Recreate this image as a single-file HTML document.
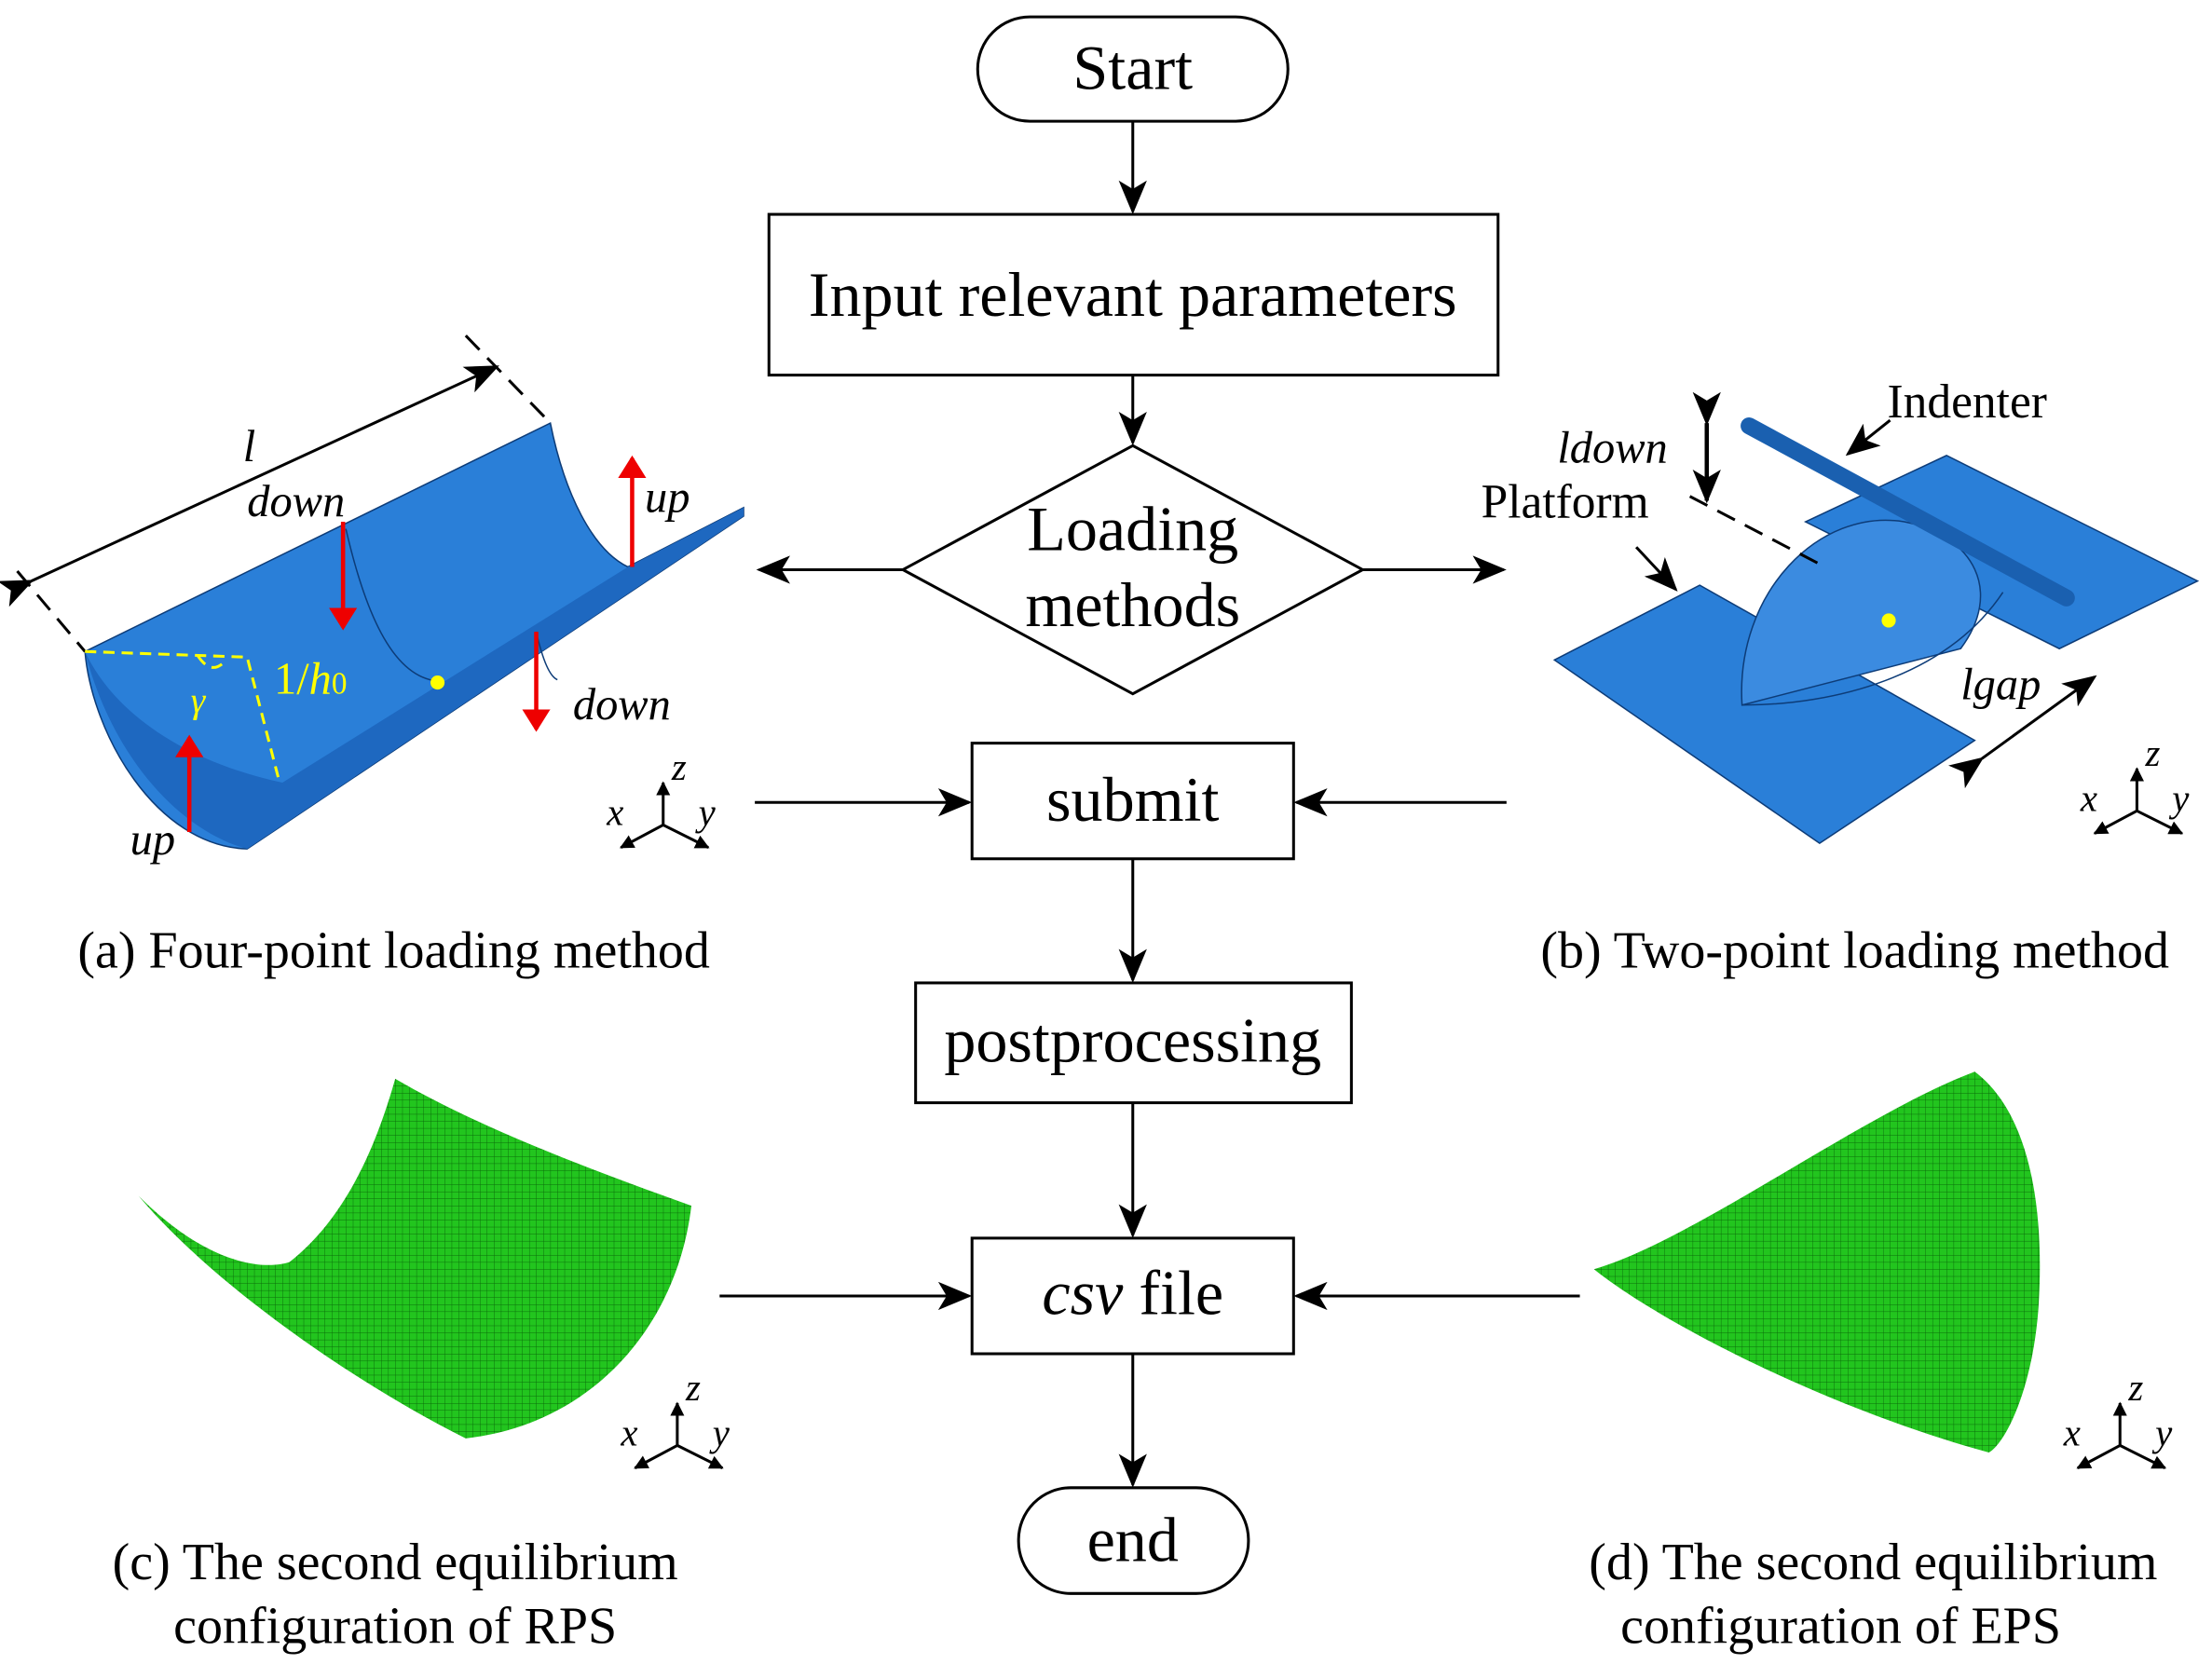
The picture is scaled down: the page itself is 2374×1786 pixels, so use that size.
<!DOCTYPE html>
<html><head><meta charset="utf-8"><style>
html,body{margin:0;padding:0;background:#fff}
svg{display:block}
text{font-family:"Liberation Serif",serif;fill:#000}
</style></head><body>
<svg width="2374" height="1786" viewBox="0 0 1568 1180" xmlns="http://www.w3.org/2000/svg">
<defs>
<marker id="ah" markerWidth="10" markerHeight="10" refX="9" refY="5" orient="auto" markerUnits="userSpaceOnUse">
<path d="M0,0 L10,5 L0,10 Z" fill="#000"/></marker>
<marker id="ahs" markerWidth="24" markerHeight="20" refX="22" refY="10" orient="auto" markerUnits="userSpaceOnUse">
<path d="M0,0 L24,10 L0,20 L6,10 Z" fill="#000"/></marker>
<marker id="ahr" markerWidth="16" markerHeight="20" refX="14" refY="10" orient="auto" markerUnits="userSpaceOnUse">
<path d="M0,0 L16,10 L0,20 Z" fill="#e00"/></marker>
<pattern id="mesh" width="5" height="5" patternUnits="userSpaceOnUse">
<rect width="5" height="5" fill="#22c51e"/><path d="M0,0H5M0,0V5" stroke="#0a6a0a" stroke-width="0.6"/></pattern>
<g id="tri" stroke="#000" stroke-width="2" fill="none">
<line x1="0" y1="0" x2="0" y2="-30" marker-end="url(#ah)"/><line x1="0" y1="0" x2="-30" y2="16" marker-end="url(#ah)"/><line x1="0" y1="0" x2="32" y2="16" marker-end="url(#ah)"/></g>
</defs>
<g fill="none" stroke="#000" stroke-width="2">
<rect x="693" y="12" width="220" height="74" rx="37" fill="#fff"/>
<rect x="545" y="152" width="517" height="114" fill="#fff"/>
<polygon points="803,316 966,404 803,492 640,404" fill="#fff"/>
<rect x="689" y="527" width="228" height="82" fill="#fff"/>
<rect x="649" y="697" width="309" height="85" fill="#fff"/>
<rect x="689" y="878" width="228" height="82" fill="#fff"/>
<rect x="722" y="1055" width="163" height="75" rx="37" fill="#fff"/>
<line x1="803" y1="86" x2="803" y2="150" marker-end="url(#ahs)"/>
<line x1="803" y1="266" x2="803" y2="314" marker-end="url(#ahs)"/>
<line x1="640" y1="404" x2="538" y2="404" marker-end="url(#ahs)"/>
<line x1="966" y1="404" x2="1066" y2="404" marker-end="url(#ahs)"/>
<line x1="535" y1="569" x2="687" y2="569" marker-end="url(#ahs)"/>
<line x1="1068" y1="569" x2="919" y2="569" marker-end="url(#ahs)"/>
<line x1="803" y1="609" x2="803" y2="695" marker-end="url(#ahs)"/>
<line x1="803" y1="782" x2="803" y2="876" marker-end="url(#ahs)"/>
<line x1="510" y1="919" x2="687" y2="919" marker-end="url(#ahs)"/>
<line x1="1120" y1="919" x2="919" y2="919" marker-end="url(#ahs)"/>
<line x1="803" y1="960" x2="803" y2="1053" marker-end="url(#ahs)"/>
</g>
<g font-size="45" text-anchor="middle">
<text x="803" y="63">Start</text>
<text x="803" y="224">Input relevant parameters</text>
<text x="803" y="390">Loading</text>
<text x="803" y="444">methods</text>
<text x="803" y="582">submit</text>
<text x="803" y="753">postprocessing</text>
<text x="803" y="932"><tspan font-style="italic">csv</tspan> file</text>
<text x="803" y="1107">end</text>
</g>
<g font-size="37" text-anchor="middle">
<text x="279" y="686">(a) Four-point loading method</text>
<text x="1315" y="686">(b) Two-point loading method</text>
<text x="280" y="1120">(c) The second equilibrium</text>
<text x="280" y="1165">configuration of RPS</text>
<text x="1328" y="1120">(d) The second equilibrium</text>
<text x="1305" y="1165">configuration of EPS</text>
</g>
<!-- (a) -->
<path d="M60,462 L390,300 C400,350 420,390 445,402 L527,360 L527,366 L175,602 C110,600 65,520 60,462 Z" fill="#2a7fd8" stroke="#0d3c78" stroke-width="1"/>
<path d="M60,462 C80,540 130,590 175,602 L527,366 L527,360 L445,402 L200,555 C130,540 80,505 60,462 Z" fill="#1e68c0"/>
<path d="M245,375 C260,440 280,480 310,483" stroke="#0d3c78" fill="none"/>
<path d="M380,448 C385,470 390,480 395,482" stroke="#0d3c78" fill="none"/>
<g stroke="#000" stroke-width="2" fill="none" stroke-dasharray="14,8">
<line x1="12" y1="405" x2="60" y2="462"/><line x1="330" y1="238" x2="390" y2="300"/></g>
<line x1="22" y1="412" x2="352" y2="260" stroke="#000" stroke-width="2" marker-end="url(#ahs)" marker-start="url(#ahs)"/>
<g stroke="#ff0" stroke-width="2" stroke-dasharray="8,5" fill="none"><path d="M60,462 L175,466 L198,555"/><path d="M140,465 Q150,480 160,468"/></g>
<circle cx="310" cy="484" r="5" fill="#ff0"/>
<g stroke="#e00" stroke-width="3"><line x1="243" y1="370" x2="243" y2="445" marker-end="url(#ahr)"/><line x1="380" y1="448" x2="380" y2="517" marker-end="url(#ahr)"/><line x1="448" y1="402" x2="448" y2="325" marker-end="url(#ahr)"/><line x1="134" y1="590" x2="134" y2="523" marker-end="url(#ahr)"/></g>
<g font-size="32" font-style="italic"><text x="172" y="327">l</text><text x="175" y="366">down</text><text x="457" y="363">up</text><text x="406" y="510">down</text><text x="92" y="606">up</text></g>
<text x="194" y="492" font-size="32" style="fill:#ff0">1/<tspan font-style="italic">h</tspan><tspan font-size="22">0</tspan></text>
<text x="135" y="505" font-size="26" font-style="italic" style="fill:#ff0">γ</text>
<g font-size="27" font-style="italic">
<use href="#tri" x="470" y="585"/><text x="476" y="553">z</text><text x="430" y="585">x</text><text x="495" y="585">y</text>
<use href="#tri" x="1515" y="575"/><text x="1521" y="543">z</text><text x="1475" y="575">x</text><text x="1540" y="575">y</text>
<use href="#tri" x="480" y="1025"/><text x="486" y="993">z</text><text x="440" y="1025">x</text><text x="505" y="1025">y</text>
<use href="#tri" x="1503" y="1025"/><text x="1509" y="993">z</text><text x="1463" y="1025">x</text><text x="1528" y="1025">y</text>
</g>
<!-- (b) -->
<polygon points="1102,468 1205,415 1400,525 1290,598" fill="#2a7fd8" stroke="#0d3c78"/>
<polygon points="1280,370 1380,323 1558,412 1460,460" fill="#2a7fd8" stroke="#0d3c78"/>
<path d="M1235,500 C1230,420 1290,360 1350,370 C1400,380 1420,420 1390,460 L1235,500 Z" fill="#3b8be0" stroke="#0d3c78"/>
<path d="M1235,500 C1300,500 1380,480 1420,420" stroke="#0d3c78" fill="none"/>
<line x1="1240" y1="302" x2="1465" y2="424" stroke="#1a60b0" stroke-width="12" stroke-linecap="round"/>
<circle cx="1339" cy="440" r="5" fill="#ff0"/>
<g stroke="#000" stroke-width="2" fill="none">
<line x1="1210" y1="300" x2="1210" y2="355" marker-end="url(#ahs)" marker-start="url(#ahs)" stroke-width="3"/>
<line x1="1198" y1="352" x2="1290" y2="400" stroke-dasharray="14,8"/>
<line x1="1405" y1="538" x2="1485" y2="480" marker-end="url(#ahs)" marker-start="url(#ahs)"/>
<line x1="1340" y1="298" x2="1310" y2="322" marker-end="url(#ahs)"/>
<line x1="1160" y1="388" x2="1188" y2="418" marker-end="url(#ahs)"/>
</g>
<text x="1338" y="296" font-size="34">Indenter</text>
<text x="1050" y="367" font-size="34">Platform</text>
<text x="1104" y="328" font-size="32" font-style="italic">ldown</text>
<text x="1390" y="496" font-size="32" font-style="italic">lgap</text>
<!-- (c) -->
<path d="M98,848 C150,900 190,900 205,895 C250,860 270,800 280,765 C340,800 420,830 490,855 C480,940 420,1010 330,1020 C250,980 150,910 98,848 Z" fill="url(#mesh)"/>
<!-- (d) -->
<path d="M1130,900 C1200,880 1320,790 1400,760 C1440,790 1450,860 1445,930 C1440,990 1420,1025 1410,1030 C1300,1000 1180,940 1130,900 Z" fill="url(#mesh)"/>
</svg>
</body></html>
